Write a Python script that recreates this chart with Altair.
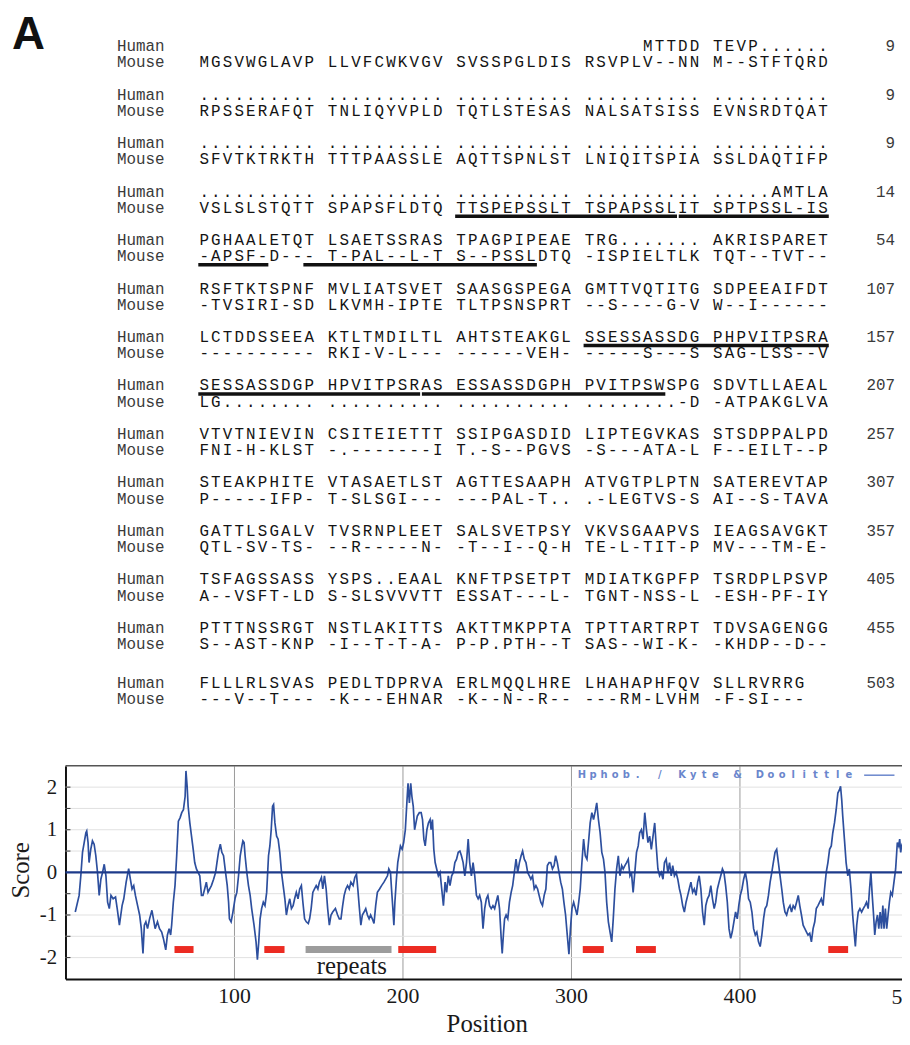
import altair as alt
import pandas as pd

# ---------------- alignment data ----------------
HUMAN = [
    " " * 38 + "MTTDD TEVP......",
    ".......... .......... .......... .......... ..........",
    ".......... .......... .......... .......... ..........",
    ".......... .......... .......... .......... .....AMTLA",
    "PGHAALETQT LSAETSSRAS TPAGPIPEAE TRG....... AKRISPARET",
    "RSFTKTSPNF MVLIATSVET SAASGSPEGA GMTTVQTITG SDPEEAIFDT",
    "LCTDDSSEEA KTLTMDILTL AHTSTEAKGL SSESSASSDG PHPVITPSRA",
    "SESSASSDGP HPVITPSRAS ESSASSDGPH PVITPSWSPG SDVTLLAEAL",
    "VTVTNIEVIN CSITEIETTT SSIPGASDID LIPTEGVKAS STSDPPALPD",
    "STEAKPHITE VTASAETLST AGTTESAAPH ATVGTPLPTN SATEREVTAP",
    "GATTLSGALV TVSRNPLEET SALSVETPSY VKVSGAAPVS IEAGSAVGKT",
    "TSFAGSSASS YSPS..EAAL KNFTPSETPT MDIATKGPFP TSRDPLPSVP",
    "PTTTNSSRGT NSTLAKITTS AKTTMKPPTA TPTTARTRPT TDVSAGENGG",
    "FLLLRLSVAS PEDLTDPRVA ERLMQQLHRE LHAHAPHFQV SLLRVRRG",
]
MOUSE = [
    "MGSVWGLAVP LLVFCWKVGV SVSSPGLDIS RSVPLV--NN M--STFTQRD",
    "RPSSERAFQT TNLIQYVPLD TQTLSTESAS NALSATSISS EVNSRDTQAT",
    "SFVTKTRKTH TTTPAASSLE AQTTSPNLST LNIQITSPIA SSLDAQTIFP",
    "VSLSLSTQTT SPAPSFLDTQ TTSPEPSSLT TSPAPSSLIT SPTPSSL-IS",
    "-APSF-D--- T-PAL--L-T S--PSSLDTQ -ISPIELTLK TQT--TVT--",
    "-TVSIRI-SD LKVMH-IPTE TLTPSNSPRT --S----G-V W--I------",
    "---------- RKI-V-L--- ------VEH- -----S---S SAG-LSS--V",
    "LG........ .......... .......... ........-D -ATPAKGLVA",
    "FNI-H-KLST -.-------I T.-S--PGVS -S---ATA-L F--EILT--P",
    "P-----IFP- T-SLSGI--- ---PAL-T.. .-LEGTVS-S AI--S-TAVA",
    "QTL-SV-TS- --R-----N- -T--I--Q-H TE-L-TIT-P MV---TM-E-",
    "A--VSFT-LD S-SLSVVVTT ESSAT---L- TGNT-NSS-L -ESH-PF-IY",
    "S--AST-KNP -I--T-T-A- P-P.PTH--T SAS--WI-K- -KHDP--D--",
    "---V--T--- -K---EHNAR -K--N--R-- ---RM-LVHM -F-SI---",
]
ROW_NUMBERS = [9, 9, 9, 14, 54, 107, 157, 207, 257, 307, 357, 405, 455, 503]
SPECIES = ["Human", "Mouse"]
# underlined repeats: (row, line 0=Human 1=Mouse, first column edge, last column edge)
UNDERLINES = [
    (3, 1, 22, 41), (3, 1, 41.15, 54),
    (4, 1, 0, 6), (4, 1, 9, 29),
    (6, 0, 33, 54),
    (7, 0, 0, 19), (7, 0, 19.15, 40),
]

# ---------------- hydropathy data ----------------
POS = [5.8, 8.1, 9.1, 10.1, 11.1, 12.1, 12.6, 13.4, 14.0, 15.0, 16.0, 17.0, 18.0, 19.0, 20.0, 21.0, 22.0, 23.0, 24.0, 25.0,
       26.0, 27.0, 28.3, 29.7, 30.7, 32.0, 33.6, 34.6, 36.0, 37.5, 38.5, 39.5, 40.5, 41.5, 42.8, 44.0, 45.0, 46.0, 46.8, 47.7,
       48.7, 49.9, 51.3, 52.2, 53.2, 54.6, 55.8, 57.1, 58.1, 59.5, 60.5, 61.5, 62.4, 63.0, 64.0, 65.0, 66.0, 67.0, 68.0, 69.0,
       70.0, 71.0, 71.5, 72.2, 72.8, 73.8, 74.8, 75.8, 76.7, 77.7, 78.7, 79.7, 80.7, 81.6, 82.6, 83.6, 84.6, 85.6, 86.6, 87.9,
       89.1, 89.9, 90.9, 91.9, 92.8, 93.8, 95.0, 96.0, 96.8, 97.3, 98.3, 99.3, 100.7, 101.7, 102.7, 103.7, 104.7, 105.3, 106.0, 106.6,
       107.6, 108.6, 109.6, 110.5, 111.9, 113.1, 113.9, 114.7, 115.5, 116.4, 117.4, 118.4, 119.4, 120.0, 120.5, 121.3, 122.1, 122.9, 123.5, 124.3,
       125.3, 126.2, 127.2, 128.2, 129.2, 130.2, 131.1, 132.1, 133.1, 134.1, 135.1, 136.0, 137.0, 138.0, 139.0, 140.0, 140.9, 141.9, 142.9, 144.1,
       144.9, 145.8, 146.8, 147.8, 148.8, 149.8, 150.7, 151.9, 152.7, 153.7, 154.7, 155.6, 156.6, 157.6, 158.6, 160.2, 161.5, 162.5, 163.5, 164.5,
       165.4, 166.4, 167.4, 168.4, 169.4, 170.7, 171.7, 172.7, 173.5, 174.3, 175.3, 176.2, 177.2, 178.2, 179.2, 180.2, 181.1, 182.1, 183.1, 184.1,
       185.1, 186.4, 187.6, 189.0, 190.0, 191.1, 191.9, 192.9, 193.5, 194.3, 194.9, 195.5, 196.4, 197.2, 198.8, 199.8, 200.7, 201.7, 202.7, 203.3,
       204.1, 204.9, 205.6, 206.4, 207.2, 208.0, 208.8, 210.0, 211.1, 211.9, 212.7, 213.5, 214.5, 215.4, 216.4, 217.0, 217.8, 218.6, 219.4, 220.3,
       221.3, 222.3, 223.3, 224.3, 225.3, 226.2, 227.2, 228.2, 229.2, 230.2, 231.1, 232.1, 233.1, 234.1, 235.0, 236.0, 237.0, 238.0, 239.0, 239.9,
       240.9, 241.9, 242.9, 243.9, 244.9, 245.8, 246.8, 247.8, 248.8, 249.8, 250.7, 251.7, 252.7, 253.7, 254.7, 255.6, 256.6, 257.6, 258.6, 259.2,
       260.0, 260.6, 261.5, 262.5, 263.5, 264.5, 265.4, 266.4, 267.4, 268.4, 269.4, 270.4, 271.3, 272.3, 273.3, 274.3, 275.3, 276.2, 277.2, 278.2,
       279.2, 280.2, 281.1, 282.1, 283.1, 284.1, 285.1, 286.0, 287.0, 288.0, 289.0, 290.0, 290.9, 291.9, 292.9, 293.9, 294.9, 295.8, 296.8, 297.8,
       298.8, 299.7, 300.6, 301.6, 302.6, 303.6, 304.6, 305.5, 306.5, 307.5, 308.5, 309.5, 310.4, 311.4, 312.4, 313.4, 314.4, 315.3, 316.3, 317.3,
       318.3, 319.3, 320.2, 321.2, 322.2, 323.2, 324.2, 325.1, 326.1, 327.1, 328.1, 329.1, 330.1, 331.0, 332.0, 333.0, 334.0, 335.0, 335.9, 336.9,
       337.9, 338.9, 339.9, 340.8, 341.8, 342.8, 343.8, 344.8, 345.7, 346.7, 347.7, 348.7, 349.7, 350.6, 351.6, 352.6, 353.6, 354.6, 355.5, 356.5,
       357.5, 358.5, 359.5, 360.4, 361.4, 362.4, 363.4, 364.4, 365.3, 366.3, 367.3, 368.3, 369.3, 370.2, 371.2, 372.2, 373.2, 374.2, 375.2, 376.1,
       377.1, 378.1, 379.1, 380.0, 381.0, 382.0, 383.0, 384.0, 385.0, 385.9, 386.9, 387.9, 388.9, 389.9, 390.8, 391.8, 392.8, 393.8, 394.8, 395.7,
       396.7, 397.7, 398.7, 399.6, 400.5, 401.5, 402.5, 403.5, 404.5, 405.4, 406.4, 407.4, 408.4, 409.4, 410.3, 411.3, 412.3, 413.3, 414.3, 415.2,
       416.2, 417.2, 418.2, 419.2, 420.1, 421.1, 422.1, 423.1, 424.1, 425.1, 426.0, 427.0, 428.0, 429.0, 430.0, 430.9, 431.9, 432.9, 433.9, 434.9,
       435.8, 436.8, 437.8, 438.8, 439.8, 440.7, 441.7, 442.7, 443.7, 444.7, 445.6, 446.6, 447.6, 448.6, 449.6, 450.5, 451.5, 452.5, 453.5, 454.5,
       455.4, 456.4, 457.4, 458.4, 459.4, 460.0, 460.7, 461.3, 462.3, 463.3, 464.3, 465.2, 466.2, 467.2, 468.2, 468.8, 469.6, 470.5, 471.5, 472.5,
       473.5, 474.5, 475.4, 476.4, 477.2, 478.0, 478.8, 479.6, 480.3, 481.1, 481.9, 482.7, 483.5, 484.3, 485.1, 485.8, 486.6, 487.4, 488.2, 489.0,
       489.8, 490.7, 491.7, 492.7, 493.7, 494.5, 495.1, 495.7, 496.2, 497.0]
SCORE = [-0.93, -0.54, -0.08, 0.47, 0.70, 0.93, 0.97, 0.70, 0.23, 0.54, 0.74, 0.66, 0.39, 0.0, -0.54, -0.16, 0.0, 0.19, -0.08, -0.70,
         -0.85, -0.54, -0.62, -0.58, -0.85, -1.24, -0.78, -0.62, -0.23, 0.09, -0.16, -0.39, -0.31, -0.54, -0.78, -1.0, -1.32, -1.90, -1.24, -1.16,
         -1.32, -1.09, -0.89, -1.09, -1.32, -1.16, -1.32, -1.40, -1.55, -1.82, -1.47, -1.32, -1.47, -1.24, -0.70, -0.31, 0.39, 1.20, 1.28, 1.40,
         1.47, 1.78, 2.38, 2.02, 1.55, 1.16, 0.85, 0.54, 0.23, 0.08, 0.0, -0.08, -0.54, -0.54, -0.39, -0.23, -0.47, -0.39, -0.31, -0.16,
         0.0, 0.23, 0.50, 0.66, 0.47, 0.39, 0.0, -0.31, -0.70, -1.09, -1.16, -0.95, -0.60, -0.47, -0.08, 0.39, 0.62, 0.74, 0.70, 0.39,
         0.0, -0.31, -0.54, -0.85, -1.24, -1.63, -2.05, -1.63, -1.09, -0.85, -0.70, -0.78, -0.47, 0.0, 0.39, 0.62, 1.0, 1.55, 1.59, 1.16,
         0.85, 0.78, 0.47, 0.0, -0.31, -0.62, -1.0, -0.78, -0.62, -0.85, -0.78, -0.62, -0.47, -0.62, -0.39, -0.31, -0.70, -1.09, -1.16, -1.20,
         -1.09, -0.85, -0.47, -0.39, -0.31, -0.39, -0.23, -0.12, -0.39, -0.08, -0.39, -0.85, -1.24, -1.0, -0.93, -0.85, -1.0, -1.09, -1.09, -0.78,
         -0.54, -0.39, -0.31, -0.39, -0.23, -0.31, -0.12, -0.04, -0.39, -0.78, -1.24, -1.0, -0.93, -0.85, -1.0, -1.09, -1.0, -1.09, -1.20, -0.78,
         -0.47, -0.39, -0.31, -0.23, -0.16, -0.08, 0.08, 0.0, -0.39, -0.85, -1.24, -0.70, -0.16, 0.23, 0.62, 0.54, 0.70, 1.0, 1.70, 2.09,
         1.63, 2.09, 1.78, 1.55, 1.0, 1.16, 1.32, 1.40, 1.40, 1.24, 0.78, 0.62, 1.0, 1.16, 1.24, 1.0, 1.24, 0.54, 0.23, 0.08,
         -0.08, 0.0, -0.39, -0.78, -0.23, -0.47, -0.08, -0.31, -0.08, 0.0, 0.23, 0.31, 0.47, 0.50, 0.39, 0.23, -0.08, 0.23, 0.78, 0.23,
         -0.08, 0.23, -0.08, -0.54, -0.62, -0.54, -0.70, -1.32, -0.85, -0.62, -0.54, -0.78, -0.85, -0.78, -0.85, -0.70, -0.54, -0.85, -1.55, -1.90,
         -1.40, -1.09, -1.0, -1.09, -0.70, -0.47, -0.31, 0.0, 0.31, 0.0, 0.23, 0.39, 0.50, 0.31, 0.23, 0.0, -0.08, -0.16, -0.08, -0.39,
         -0.31, -0.39, -0.54, -0.70, -0.78, -0.54, -0.39, 0.16, 0.23, 0.23, 0.08, 0.16, 0.39, 0.23, 0.0, -0.23, -0.39, -0.70, -1.0, -1.47,
         -1.92, -1.32, -0.85, -0.70, -0.85, -1.0, -0.70, -0.39, 0.23, 0.78, 0.39, 0.31, 0.70, 1.16, 1.40, 1.24, 1.43, 1.63, 1.24, 0.93,
         0.47, 0.31, 0.0, -0.70, -1.16, -1.40, -1.63, -1.09, -0.39, 0.08, 0.39, -0.08, 0.16, 0.08, 0.16, 0.23, 0.31, -0.08, 0.0, -0.47,
         0.0, 0.47, 0.62, 0.93, 1.0, 0.78, 1.40, 1.0, 0.70, 0.85, 0.54, 0.85, 1.16, 0.62, 0.08, -0.08, 0.0, -0.16, 0.23, 0.31,
         0.0, 0.23, -0.08, 0.16, -0.08, 0.0, -0.16, -0.39, -0.54, -0.78, -0.93, -0.70, -0.54, -0.39, -0.23, -0.47, -0.39, -0.54, -0.23, -0.08,
         -0.39, -0.93, -1.24, -0.78, -0.62, -0.54, -0.31, -0.62, -0.85, -0.70, -0.39, -0.23, -0.08, 0.08, 0.0, -0.31, -0.70, -1.32, -1.55, -1.40,
         -1.16, -0.93, -1.09, -0.78, -0.54, -0.39, -0.16, 0.0, -0.23, -0.62, -0.70, -0.93, -1.32, -1.47, -1.40, -1.63, -1.74, -1.47, -1.09, -0.85,
         -0.78, -0.54, -0.23, 0.0, 0.23, 0.47, 0.54, 0.23, -0.08, -0.39, -0.70, -0.93, -1.0, -0.85, -0.78, -0.93, -0.78, -0.85, -0.70, -0.54,
         -0.78, -1.0, -1.24, -1.32, -1.40, -1.47, -1.43, -1.63, -1.32, -1.16, -0.85, -0.78, -0.70, -0.62, -0.78, -0.39, 0.0, 0.23, 0.54, 0.62,
         0.93, 1.16, 1.47, 1.86, 1.94, 2.02, 1.70, 1.32, 0.78, 0.23, -0.08, 0.08, -0.39, -1.0, -1.47, -1.74, -1.24, -0.93, -0.85, -0.93,
         -0.85, -0.78, -0.70, -0.85, -0.39, 0.0, -0.54, -1.0, -1.47, -1.16, -1.0, -1.32, -0.93, -1.32, -0.78, -1.32, -0.85, -1.32, -1.0, -0.70,
         -0.47, -0.54, -0.23, 0.08, 0.70, 0.62, 0.78, 0.47, 0.62, 0.70]

RED_SEGMENTS = [(64.7, 76.0), (118.0, 130.0), (197.5, 220.0), (307.0, 319.5), (338.6, 350.4), (452.7, 464.5)]
REPEAT_SEGMENT = (142.5, 193.5)
SEGMENT_Y = -1.81
REPEAT_LABEL = ("repeats", 170.0, -2.38)
X_TICKS = [100, 200, 300, 400]
CLIPPED_TICK = 500
Y_TICKS = [-2, -1, 0, 1, 2]
Y_MINOR = [-2.0, -1.5, -1.0, -0.5, 0.5, 1.0, 1.5, 2.0]
LEGEND_TEXT = "Hphob. / Kyte & Doolittle"
LEGEND_SPAN = (306.5, 6.6, 2.28)      # first char x, char step (position units), score level
LEGEND_LINE = (474.0, 492.0)
PANEL_LABEL = "A"

# ---------------- layout ----------------
PAGE_MARGIN = 8
PLOT_LEFT, PLOT_TOP = 66, 768          # page px of plot area
W, H = 844, 215
XD = [0, W / 1.70]
YD = [-2.5, 2.5]
SEQ_LEFT, PITCH = 200.0, 11.78          # sequence column grid
ROW_TOP, ROW_STEP, LINE_STEP = 42.0, 48.9, 16.3
LAST_ROW_EXTRA = 7.0                    # extra gap before the final alignment row (px)
LINE_FRAC = LINE_STEP / ROW_STEP
TXD = [(PLOT_LEFT - SEQ_LEFT) / PITCH, (PLOT_LEFT + W - SEQ_LEFT) / PITCH]
TYD = [(PLOT_TOP - ROW_TOP) / ROW_STEP, (PLOT_TOP + H - ROW_TOP) / ROW_STEP]

MONO = "Liberation Mono"
SERIF = "Liberation Serif"
INK = "#141414"
N_ROWS = len(HUMAN)


def row_v(r, line):
    extra = LAST_ROW_EXTRA / ROW_STEP if r == N_ROWS - 1 else 0.0
    return r + extra + line * LINE_FRAC


def xs():
    return alt.Scale(domain=XD, nice=False, zero=False)


def ys():
    return alt.Scale(domain=YD, nice=False, zero=False)


def txs():
    return alt.Scale(domain=TXD, nice=False, zero=False)


def tys():
    return alt.Scale(domain=TYD, nice=False, zero=False, reverse=True)


# ---------------- build tables ----------------
chars = []
for r, (h, m) in enumerate(zip(HUMAN, MOUSE)):
    for line, s in enumerate((h, m)):
        for c, ch in enumerate(s):
            if ch != " ":
                chars.append({"u": c + 0.5, "v": row_v(r, line), "ch": ch})
chars_df = pd.DataFrame(chars)

labels_df = pd.DataFrame([
    {"u": (118 - SEQ_LEFT) / PITCH, "v": row_v(r, line), "t": SPECIES[line]}
    for r in range(N_ROWS) for line in (0, 1)
])
nums_df = pd.DataFrame([
    {"u": (903 - SEQ_LEFT) / PITCH, "v": row_v(r, 0), "t": str(n)} for r, n in enumerate(ROW_NUMBERS)
])
ul_df = pd.DataFrame([
    {"a": a, "b": b, "v": row_v(r, line) + 8.5 / ROW_STEP} for r, line, a, b in UNDERLINES
])
panel_df = pd.DataFrame([{"u": (12 - SEQ_LEFT) / PITCH, "v": (45 - ROW_TOP) / ROW_STEP, "t": PANEL_LABEL}])

hyd_df = pd.DataFrame({"pos": POS, "score": SCORE})
red_df = pd.DataFrame([{"a": a, "b": b, "y": SEGMENT_Y} for a, b in RED_SEGMENTS])
rep_df = pd.DataFrame([{"a": REPEAT_SEGMENT[0], "b": REPEAT_SEGMENT[1], "y": SEGMENT_Y}])
rep_lbl = pd.DataFrame([{"x": REPEAT_LABEL[1], "y": REPEAT_LABEL[2], "t": REPEAT_LABEL[0]}])
grid_df = pd.DataFrame({"y": Y_MINOR})
zero_df = pd.DataFrame({"y": [0.0]})
top_df = pd.DataFrame({"y": [YD[1]]})
t500_df = pd.DataFrame([{"x": CLIPPED_TICK, "y": YD[0], "t": str(CLIPPED_TICK)}])
leg_df = pd.DataFrame([
    {"x": LEGEND_SPAN[0] + i * LEGEND_SPAN[1], "y": LEGEND_SPAN[2], "t": ch}
    for i, ch in enumerate(LEGEND_TEXT) if ch != " "
])
legline_df = pd.DataFrame([{"a": LEGEND_LINE[0], "b": LEGEND_LINE[1], "y": LEGEND_SPAN[2]}])

# ---------------- text layers ----------------
seq_layer = alt.Chart(chars_df).mark_text(
    font=MONO, fontSize=16, color=INK, align="center", baseline="middle"
).encode(
    x=alt.X("u:Q", scale=txs(), axis=None),
    y=alt.Y("v:Q", scale=tys(), axis=None),
    text="ch:N",
)
lab_layer = alt.Chart(labels_df).mark_text(
    font=MONO, fontSize=16, color="#3a3a3a", align="left", baseline="middle"
).encode(
    x=alt.X("u:Q", scale=txs(), axis=None),
    y=alt.Y("v:Q", scale=tys(), axis=None),
    text="t:N",
)
num_layer = alt.Chart(nums_df).mark_text(
    font=MONO, fontSize=16, color="#3a3a3a", align="right", baseline="middle"
).encode(
    x=alt.X("u:Q", scale=txs(), axis=None),
    y=alt.Y("v:Q", scale=tys(), axis=None),
    text="t:N",
)
ul_layer = alt.Chart(ul_df).mark_rule(color="#111111", strokeWidth=3.5, strokeCap="butt").encode(
    x=alt.X("a:Q", scale=txs(), axis=None),
    x2="b:Q",
    y=alt.Y("v:Q", scale=tys(), axis=None),
)
panel_layer = alt.Chart(panel_df).mark_text(
    font="Liberation Sans", fontSize=46, fontWeight="bold", color="#111111",
    align="left", baseline="alphabetic"
).encode(
    x=alt.X("u:Q", scale=txs(), axis=None),
    y=alt.Y("v:Q", scale=tys(), axis=None),
    text="t:N",
)

# ---------------- plot layers ----------------
grid_layer = alt.Chart(grid_df).mark_rule(color="#e1e1e1", strokeWidth=1).encode(
    y=alt.Y("y:Q", scale=ys(), axis=None)
)
tick_layer = alt.Chart(grid_df).mark_rule(color="#333333", strokeWidth=1).encode(
    y=alt.Y("y:Q", scale=ys(), axis=None), x=alt.value(0), x2=alt.value(5)
)
line_layer = alt.Chart(hyd_df).mark_line(color="#2d4f9e", strokeWidth=1.7, clip=True).encode(
    x=alt.X("pos:Q", scale=xs(), axis=alt.Axis(
        values=X_TICKS, grid=True, gridColor="#9a9a9a", gridWidth=1, ticks=False, tickSize=0,
        labelFont=SERIF, labelFontSize=22, labelColor="#1a1a1a", labelPadding=7,
        labelFlush=False, labelOverlap=False,
        domainColor="#111111", domainWidth=2,
        title="Position", titleFont=SERIF, titleFontSize=25, titleFontWeight="normal",
        titleColor="#1a1a1a", titleX=425, titleY=53, titleAlign="center", titleBaseline="alphabetic",
    )),
    y=alt.Y("score:Q", scale=ys(), axis=alt.Axis(
        values=Y_TICKS, grid=False, ticks=False, tickSize=0, labelExpr="'' + datum.value",
        labelFont=SERIF, labelFontSize=21, labelColor="#1a1a1a", labelPadding=9,
        labelFlush=False, labelOverlap=False,
        domainColor="#111111", domainWidth=2,
        title="Score", titleFont=SERIF, titleFontSize=25, titleFontWeight="normal",
        titleColor="#1a1a1a", titleX=-45, titleY=105, titleAngle=270,
        titleAlign="center", titleBaseline="middle",
    )),
)
zero_layer = alt.Chart(zero_df).mark_rule(color="#1d3a8a", strokeWidth=2.5).encode(
    y=alt.Y("y:Q", scale=ys(), axis=None)
)
top_layer = alt.Chart(top_df).mark_rule(color="#555555", strokeWidth=1.5).encode(
    y=alt.Y("y:Q", scale=ys(), axis=None)
)
red_layer = alt.Chart(red_df).mark_rule(color="#ec2b22", strokeWidth=7, strokeCap="butt").encode(
    x=alt.X("a:Q", scale=xs(), axis=None), x2="b:Q", y=alt.Y("y:Q", scale=ys(), axis=None)
)
rep_layer = alt.Chart(rep_df).mark_rule(color="#9c9c9c", strokeWidth=7, strokeCap="butt").encode(
    x=alt.X("a:Q", scale=xs(), axis=None), x2="b:Q", y=alt.Y("y:Q", scale=ys(), axis=None)
)
rep_text = alt.Chart(rep_lbl).mark_text(
    font=SERIF, fontSize=25, color="#1a1a1a", align="center", baseline="alphabetic"
).encode(
    x=alt.X("x:Q", scale=xs(), axis=None), y=alt.Y("y:Q", scale=ys(), axis=None), text="t:N"
)
t500_layer = alt.Chart(t500_df).mark_text(
    font=SERIF, fontSize=22, color="#1a1a1a", align="center", baseline="top", dy=8
).encode(
    x=alt.X("x:Q", scale=xs(), axis=None), y=alt.Y("y:Q", scale=ys(), axis=None), text="t:N"
)
leg_layer = alt.Chart(leg_df).mark_text(
    font="DejaVu Sans", fontSize=10, fontWeight="bold", color="#6a86cc", align="center", baseline="middle"
).encode(
    x=alt.X("x:Q", scale=xs(), axis=None), y=alt.Y("y:Q", scale=ys(), axis=None), text="t:N"
)
legline_layer = alt.Chart(legline_df).mark_rule(color="#6a86cc", strokeWidth=1.5).encode(
    x=alt.X("a:Q", scale=xs(), axis=None), x2="b:Q", y=alt.Y("y:Q", scale=ys(), axis=None)
)

chart = alt.layer(
    panel_layer, lab_layer, seq_layer, num_layer, ul_layer,
    grid_layer, tick_layer, line_layer, zero_layer, top_layer,
    red_layer, rep_layer, rep_text, t500_layer, leg_layer, legline_layer,
).resolve_scale(
    x="independent", y="independent"
).properties(
    width=W, height=H,
    autosize=alt.AutoSizeParams(type="none"),
    padding={"left": PLOT_LEFT - PAGE_MARGIN, "top": PLOT_TOP - PAGE_MARGIN,
             "right": 0, "bottom": 1029 - (PLOT_TOP - PAGE_MARGIN) - H},
    background="white",
).configure_view(stroke=None)

chart.save("out.html", embed_options={"renderer": "svg", "actions": False})
